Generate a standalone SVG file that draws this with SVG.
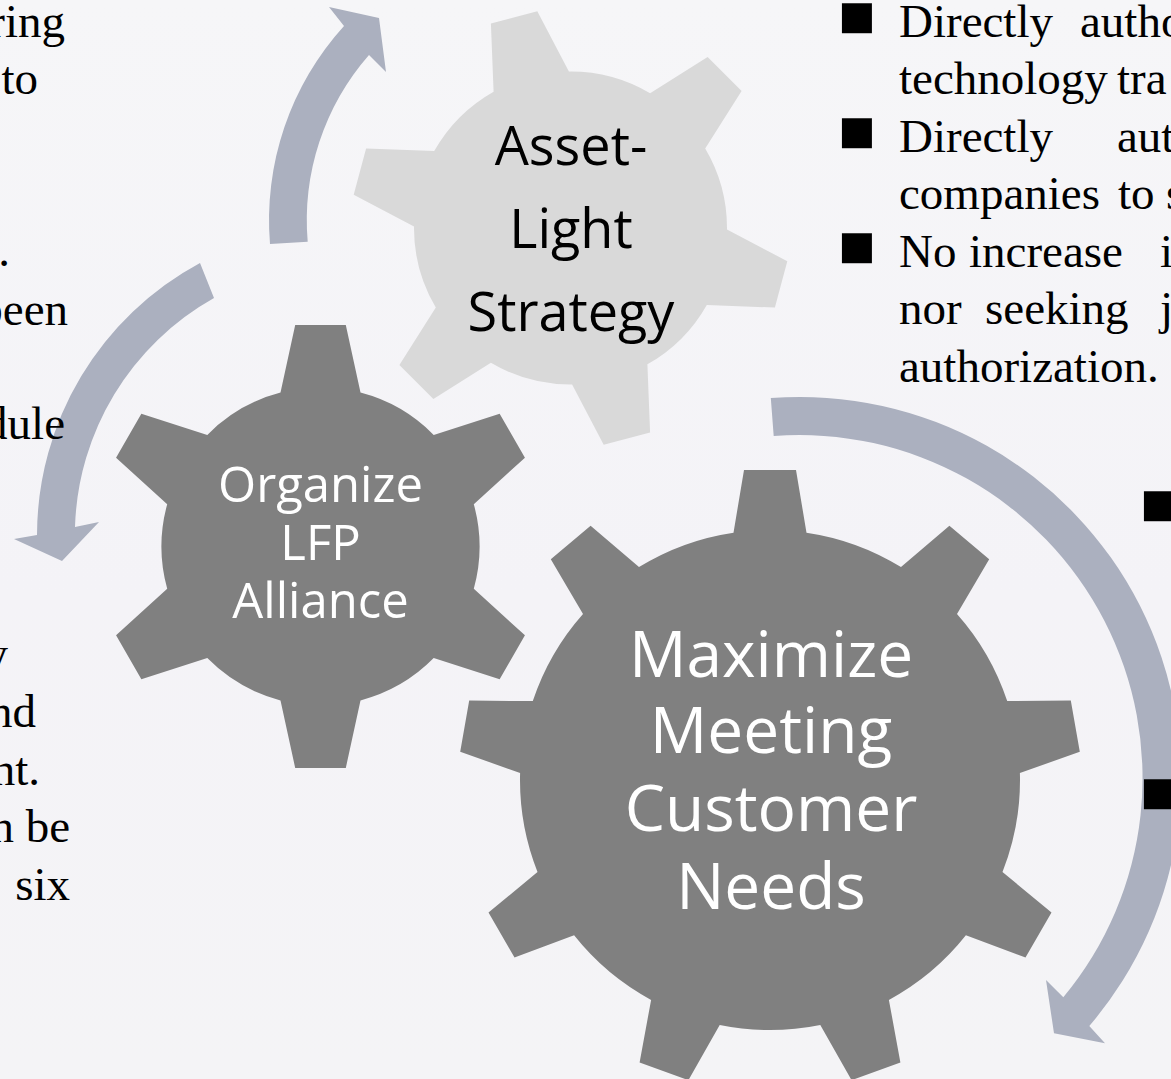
<svg xmlns="http://www.w3.org/2000/svg" width="1171" height="1079" viewBox="0 0 1171 1079">
  <defs>
    <linearGradient id="bg" x1="0" y1="0" x2="0" y2="1">
      <stop offset="0" stop-color="#f6f6f8"/>
      <stop offset="0.55" stop-color="#f4f3f7"/>
      <stop offset="1" stop-color="#f4f4f6"/>
    </linearGradient>
    <style>
      .arrow { fill: #abb0bf; }
      .gear-dark { fill: #808080; }
      .gear-light { fill: #d9d9d9; }
      .label { font-family: "Open Sans", "Noto Sans", sans-serif; text-anchor: middle; }
      .label-dark { fill: #000000; }
      .label-light { fill: #ffffff; }
      .body { font-family: "Liberation Serif", "Times New Roman", serif; font-size: 47px; fill: #000000; }
      .mark { font-family: "Liberation Serif", "Times New Roman", serif; font-size: 62px; fill: #000000; }
      .end { text-anchor: end; }
    </style>
  </defs>

  <rect x="0" y="0" width="1171" height="1079" fill="url(#bg)"/>

  <!-- circular arrows between the gears -->
  <g id="connectors">
    <path class="arrow" d="M 270,244 A 289 289 0 0 1 344,26 L 329,7 L 379,18 L 386,72 L 369,55 A 251 251 0 0 0 307.7,241.7 Z"/>
    <path class="arrow" d="M 200,263 A 309.5 309.5 0 0 0 37,535 L 14,539 L 62,561 L 99,522 L 75,527 A 272 272 0 0 1 214,298 Z"/>
    <path class="arrow" d="M 770.8,398.1 A 381 381 0 0 1 1089.3,1026 L 1105,1043.3 L 1054,1033.3 L 1046,980 L 1063.3,997.3 A 343 343 0 0 0 773.7,436 Z"/>
  </g>

  <!-- six-tooth gear, light -->
  <g id="gear-asset-light">
    <path class="gear-light" d="M 727.0,229.6 L 787.3,261.2 L 774.9,307.6 L 706.8,304.9 A 156.5 156.5 0 0 1 647.4,364.3 L 650.1,432.4 L 603.7,444.8 L 572.1,384.5 A 156.5 156.5 0 0 1 490.9,362.8 L 433.4,399.1 L 399.4,365.1 L 435.8,307.6 A 156.5 156.5 0 0 1 414.0,226.4 L 353.7,194.8 L 366.1,148.4 L 434.2,151.1 A 156.5 156.5 0 0 1 493.6,91.7 L 490.9,23.6 L 537.3,11.2 L 568.9,71.5 A 156.5 156.5 0 0 1 650.1,93.2 L 707.6,56.9 L 741.6,90.9 L 705.2,148.4 A 156.5 156.5 0 0 1 727.0,229.6 Z"/>
    <text class="label label-dark" font-size="54"><tspan x="571" y="165">Asset-</tspan><tspan x="571" y="248">Light</tspan><tspan x="571" y="331">Strategy</tspan></text>
  </g>

  <!-- six-tooth gear, dark -->
  <g id="gear-lfp-alliance">
    <path class="gear-dark" d="M 473.8,588.8 L 524.95,635.35 L 499.65,679.15 L 433.7,658.1 A 159 159 0 0 1 360.5,700.4 L 345.8,768 L 295.2,768 L 280.5,700.4 A 159 159 0 0 1 207.3,658.1 L 141.35,679.2 L 116.05,635.3 L 167.2,588.8 A 159 159 0 0 1 167.2,504.2 L 116.05,457.7 L 141.35,413.8 L 207.3,434.9 A 159 159 0 0 1 280.5,392.6 L 295.2,325 L 345.8,325 L 360.5,392.6 A 159 159 0 0 1 433.7,434.9 L 499.65,413.85 L 524.95,457.65 L 473.8,504.2 A 159 159 0 0 1 473.8,588.8 Z"/>
    <text class="label label-light" font-size="49"><tspan x="320.5" y="502">Organize</tspan><tspan x="320.5" y="560">LFP</tspan><tspan x="320.5" y="618">Alliance</tspan></text>
  </g>

  <!-- nine-tooth gear, dark -->
  <g id="gear-customer-needs">
    <path class="gear-dark" d="M 733.5,532.7 L 744,470 L 796,470 L 806.5,532.7 A 250 250 0 0 1 901.0,567.1 L 949.4,525.8 L 989.2,559.2 L 957.0,614.0 A 250 250 0 0 1 1007.2,701.1 L 1070.8,700.6 L 1079.8,751.8 L 1019.9,773.0 A 250 250 0 0 1 1002.5,872.0 L 1051.5,912.5 L 1025.5,957.5 L 965.9,935.3 A 250 250 0 0 1 888.9,999.9 L 900.4,1062.4 L 851.6,1080.2 L 820.3,1024.9 A 250 250 0 0 1 719.7,1024.9 L 688.4,1080.2 L 639.6,1062.4 L 651.1,999.9 A 250 250 0 0 1 574.1,935.3 L 514.5,957.5 L 488.5,912.5 L 537.5,872.0 A 250 250 0 0 1 520.1,773.0 L 460.2,751.8 L 469.2,700.6 L 532.8,701.1 A 250 250 0 0 1 583.0,614.0 L 550.8,559.2 L 590.6,525.8 L 639.0,567.1 A 250 250 0 0 1 733.5,532.7 Z"/>
    <text class="label label-light" font-size="64"><tspan x="771" y="677">Maximize</tspan><tspan x="771" y="753">Meeting</tspan><tspan x="771" y="831">Customer</tspan><tspan x="771" y="909">Needs</tspan></text>
  </g>

  <!-- left text column, clipped at the page edge -->
  <g id="text-left" class="body">
    <text class="end" x="65" y="37">ring</text>
    <text class="end" x="38" y="94">to</text>
    <text class="end" x="10" y="266">.</text>
    <text class="end" x="68" y="325">been</text>
    <text class="end" x="65" y="439">dule</text>
    <text class="end" x="8" y="669">y</text>
    <text class="end" x="36" y="727">nd</text>
    <text class="end" x="40" y="785">nt.</text>
    <text class="end" x="70" y="842">n be</text>
    <text class="end" x="70" y="900">six</text>
  </g>

  <!-- right text column, top -->
  <g id="text-right-top" class="body">
    <text class="mark" x="838" y="37">■</text>
    <text x="899" y="37">Directly</text>
    <text x="1080" y="37">autho</text>
    <text x="899" y="94">technology</text>
    <text x="1117" y="94">tra</text>
    <text class="mark" x="838" y="152">■</text>
    <text x="899" y="152">Directly</text>
    <text x="1117" y="152">aut</text>
    <text x="899" y="209">companies</text>
    <text x="1118" y="209">to</text>
    <text x="1166" y="209">s</text>
    <text class="mark" x="838" y="267">■</text>
    <text x="899" y="267">No</text>
    <text x="969" y="267">increase</text>
    <text x="1160" y="267">i</text>
    <text x="899" y="324">nor</text>
    <text x="985" y="324">seeking</text>
    <text x="1160" y="324">j</text>
    <text x="899" y="382">authorization.</text>
  </g>

  <!-- right text column, bullet marks beside the large arrow -->
  <g id="text-right-bullets">
    <text class="mark" x="1140" y="525">■</text>
    <text class="mark" x="1140" y="813">■</text>
  </g>
</svg>
